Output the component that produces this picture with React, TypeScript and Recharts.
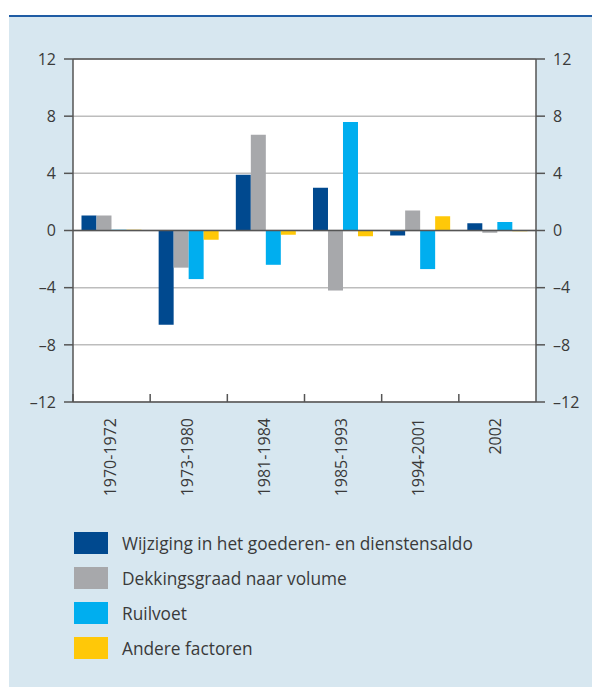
import React from 'react';
import { BarChart, Bar, XAxis, YAxis, CartesianGrid, ReferenceLine } from 'recharts';

const categories = ['1970-1972', '1973-1980', '1981-1984', '1985-1993', '1994-2001', '2002'];
const saldo = [1.05, -6.6, 3.9, 3.0, -0.35, 0.5];
const dekking = [1.05, -2.6, 6.7, -4.2, 1.4, -0.15];
const ruilvoet = [0.05, -3.4, -2.4, 7.6, -2.7, 0.6];
const andere = [0.05, -0.65, -0.3, -0.4, 1.0, -0.05];
const yTicks = [-12, -8, -4, 0, 4, 8, 12];

const seriesNames = [
  'Wijziging in het goederen- en dienstensaldo',
  'Dekkingsgraad naar volume',
  'Ruilvoet',
  'Andere factoren',
];
const seriesKeys = ['saldo', 'dekking', 'ruilvoet', 'andere'];
const seriesColors = ['#00498f', '#a7a8ab', '#00aeef', '#ffc808'];

const data = categories.map((c, i) => ({
  cat: c,
  saldo: saldo[i],
  dekking: dekking[i],
  ruilvoet: ruilvoet[i],
  andere: andere[i],
}));

const FONT = '"Open Sans", sans-serif';
const TEXT = '#3a3a3a';
const AXIS = '#555';

const fmt = (v: number) => (v < 0 ? '\u2013' + Math.abs(v) : String(v));

const XTick = (props: any) => {
  const { x, y, payload, width, visibleTicksCount } = props;
  const half = payload && payload.offset ? payload.offset : width / visibleTicksCount / 2;
  const lx = x - half;
  const tx = x + 4;
  const ty = y + 16;
  return (
    <g>
      <line x1={lx} x2={lx} y1={y - 8} y2={y} stroke={AXIS} strokeWidth={1.5} />
      <text
        x={tx}
        y={ty}
        transform={`rotate(-90, ${tx}, ${ty})`}
        textAnchor="end"
        fontSize={16}
        fontFamily={FONT}
        fill={TEXT}
      >
        {payload.value}
      </text>
    </g>
  );
};

export default function App() {
  return (
    <div style={{ position: 'absolute', left: 0, top: 0, width: 592, height: 687, background: '#fff', fontFamily: FONT }}>
      <div style={{ position: 'absolute', left: 9, top: 15, right: 0, height: 2, background: '#1f5ca4' }} />
      <div style={{ position: 'absolute', left: 9, top: 17, right: 0, bottom: 0, background: '#d7e7f0' }} />
      <div style={{ position: 'absolute', left: 0, top: 0 }}>
        <BarChart
          width={592}
          height={502}
          data={data}
          margin={{ top: 59, right: 0, bottom: 0, left: 0 }}
          barCategoryGap="11%"
          barGap={0}
        >
          <CartesianGrid vertical={false} stroke="#bdbdbd" strokeWidth={1.5} fill="#ffffff" fillOpacity={1} />
          <XAxis
            dataKey="cat"
            height={100}
            tickSize={0}
            tickMargin={0}
            tickLine={false}
            axisLine={{ stroke: AXIS, strokeWidth: 1.5 }}
            tick={<XTick />}
            interval={0}
          />
          <YAxis
            domain={[-12, 12]}
            ticks={yTicks}
            width={73}
            tickSize={9}
            tickMargin={8}
            tickFormatter={fmt}
            axisLine={{ stroke: AXIS, strokeWidth: 1.5 }}
            tickLine={{ stroke: AXIS, strokeWidth: 1.5 }}
            tick={{ fontSize: 16, fontFamily: FONT, fill: TEXT }}
            allowDataOverflow
          />
          <YAxis
            yAxisId="r"
            orientation="right"
            domain={[-12, 12]}
            ticks={yTicks}
            width={56}
            tickSize={9}
            tickMargin={8}
            tickFormatter={fmt}
            axisLine={{ stroke: AXIS, strokeWidth: 1.5 }}
            tickLine={{ stroke: AXIS, strokeWidth: 1.5 }}
            tick={{ fontSize: 16, fontFamily: FONT, fill: TEXT, textAnchor: 'start' }}
            allowDataOverflow
          />
          {seriesKeys.map((k, i) => (
            <Bar key={k} dataKey={k} name={seriesNames[i]} fill={seriesColors[i]} isAnimationActive={false} />
          ))}
          <ReferenceLine y={0} stroke={AXIS} strokeWidth={1.5} />
          <ReferenceLine y={12} stroke={AXIS} strokeWidth={1.5} />
        </BarChart>
      </div>
      <div style={{ position: 'absolute', left: 74, top: 532 }}>
        {seriesNames.map((n, i) => (
          <div key={n} style={{ display: 'flex', alignItems: 'center', height: 35 }}>
            <div style={{ width: 34, height: 22, background: seriesColors[i], marginTop: -13 }} />
            <div style={{ marginLeft: 14, marginTop: -13, fontSize: 17.3, color: TEXT, fontFamily: FONT, whiteSpace: 'nowrap' }}>{n}</div>
          </div>
        ))}
      </div>
    </div>
  );
}
